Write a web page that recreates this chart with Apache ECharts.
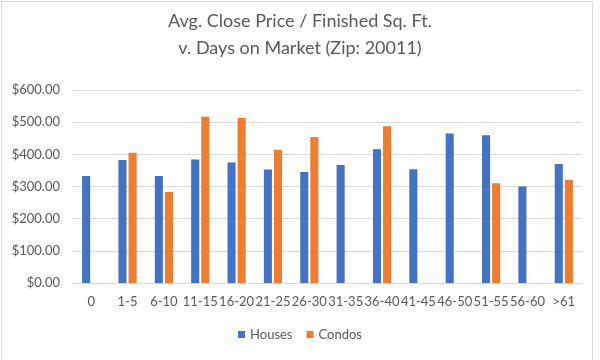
<!DOCTYPE html>
<html><head><meta charset="utf-8">
<script src="https://cdn.jsdelivr.net/npm/echarts@6/dist/echarts.min.js"></script>
<style>html,body{margin:0;padding:0;background:#fff}#c{width:600px;height:360px}</style>
</head><body><div id="c"></div>
<script>
const categories = ['0','1-5','6-10','11-15','16-20','21-25','26-30','31-35','36-40','41-45','46-50','51-55','56-60','>61'];
const houses = [333,382,333,384,375,353,345,367,416,354,465,459,300,370];
const condos = [null,405,283,517,514,414,454,null,487,null,null,310,null,321];
const yTicks = [0,100,200,300,400,500,600];

const chart = echarts.init(document.getElementById('c'));
const font = 'Lato, "Open Sans", sans-serif';
chart.setOption({
  animation:false,
  textStyle:{fontFamily:font},
  title:{text:'Avg. Close Price / Finished Sq. Ft.\nv. Days on Market (Zip: 20011)',left:'center',top:3,
    textStyle:{fontFamily:font,fontSize:18,fontWeight:'normal',color:'#595959',lineHeight:27}},
  graphic:[{type:'rect',shape:{x:1.5,y:1.5,width:591,height:370},style:{fill:'none',stroke:'#d9d9d9',lineWidth:1},silent:true}],
  legend:{bottom:14,left:'center',itemWidth:7,itemHeight:7,itemGap:14,icon:'rect',
    textStyle:{fontFamily:font,fontSize:13,color:'#595959'},data:['Houses','Condos']},
  grid:{left:73,right:18,top:90,bottom:77},
  xAxis:{type:'category',data:categories,
    axisLine:{lineStyle:{color:'#d9d9d9'}},axisTick:{show:false},
    axisLabel:{interval:0,fontFamily:font,fontSize:13,color:'#595959',margin:12}},
  yAxis:{type:'value',min:yTicks[0],max:yTicks[yTicks.length-1],interval:100,
    axisLine:{show:false},axisTick:{show:false},
    splitLine:{lineStyle:{color:'#d9d9d9'}},
    axisLabel:{fontFamily:font,fontSize:13,color:'#595959',margin:13,formatter:v=>'$'+v.toFixed(2)}},
  series:[
    {name:'Houses',type:'bar',data:houses,itemStyle:{color:'#4472C4'},barGap:'25%',barCategoryGap:'50%'},
    {name:'Condos',type:'bar',data:condos,itemStyle:{color:'#ED7D31'}}
  ]
});
</script></body></html>
